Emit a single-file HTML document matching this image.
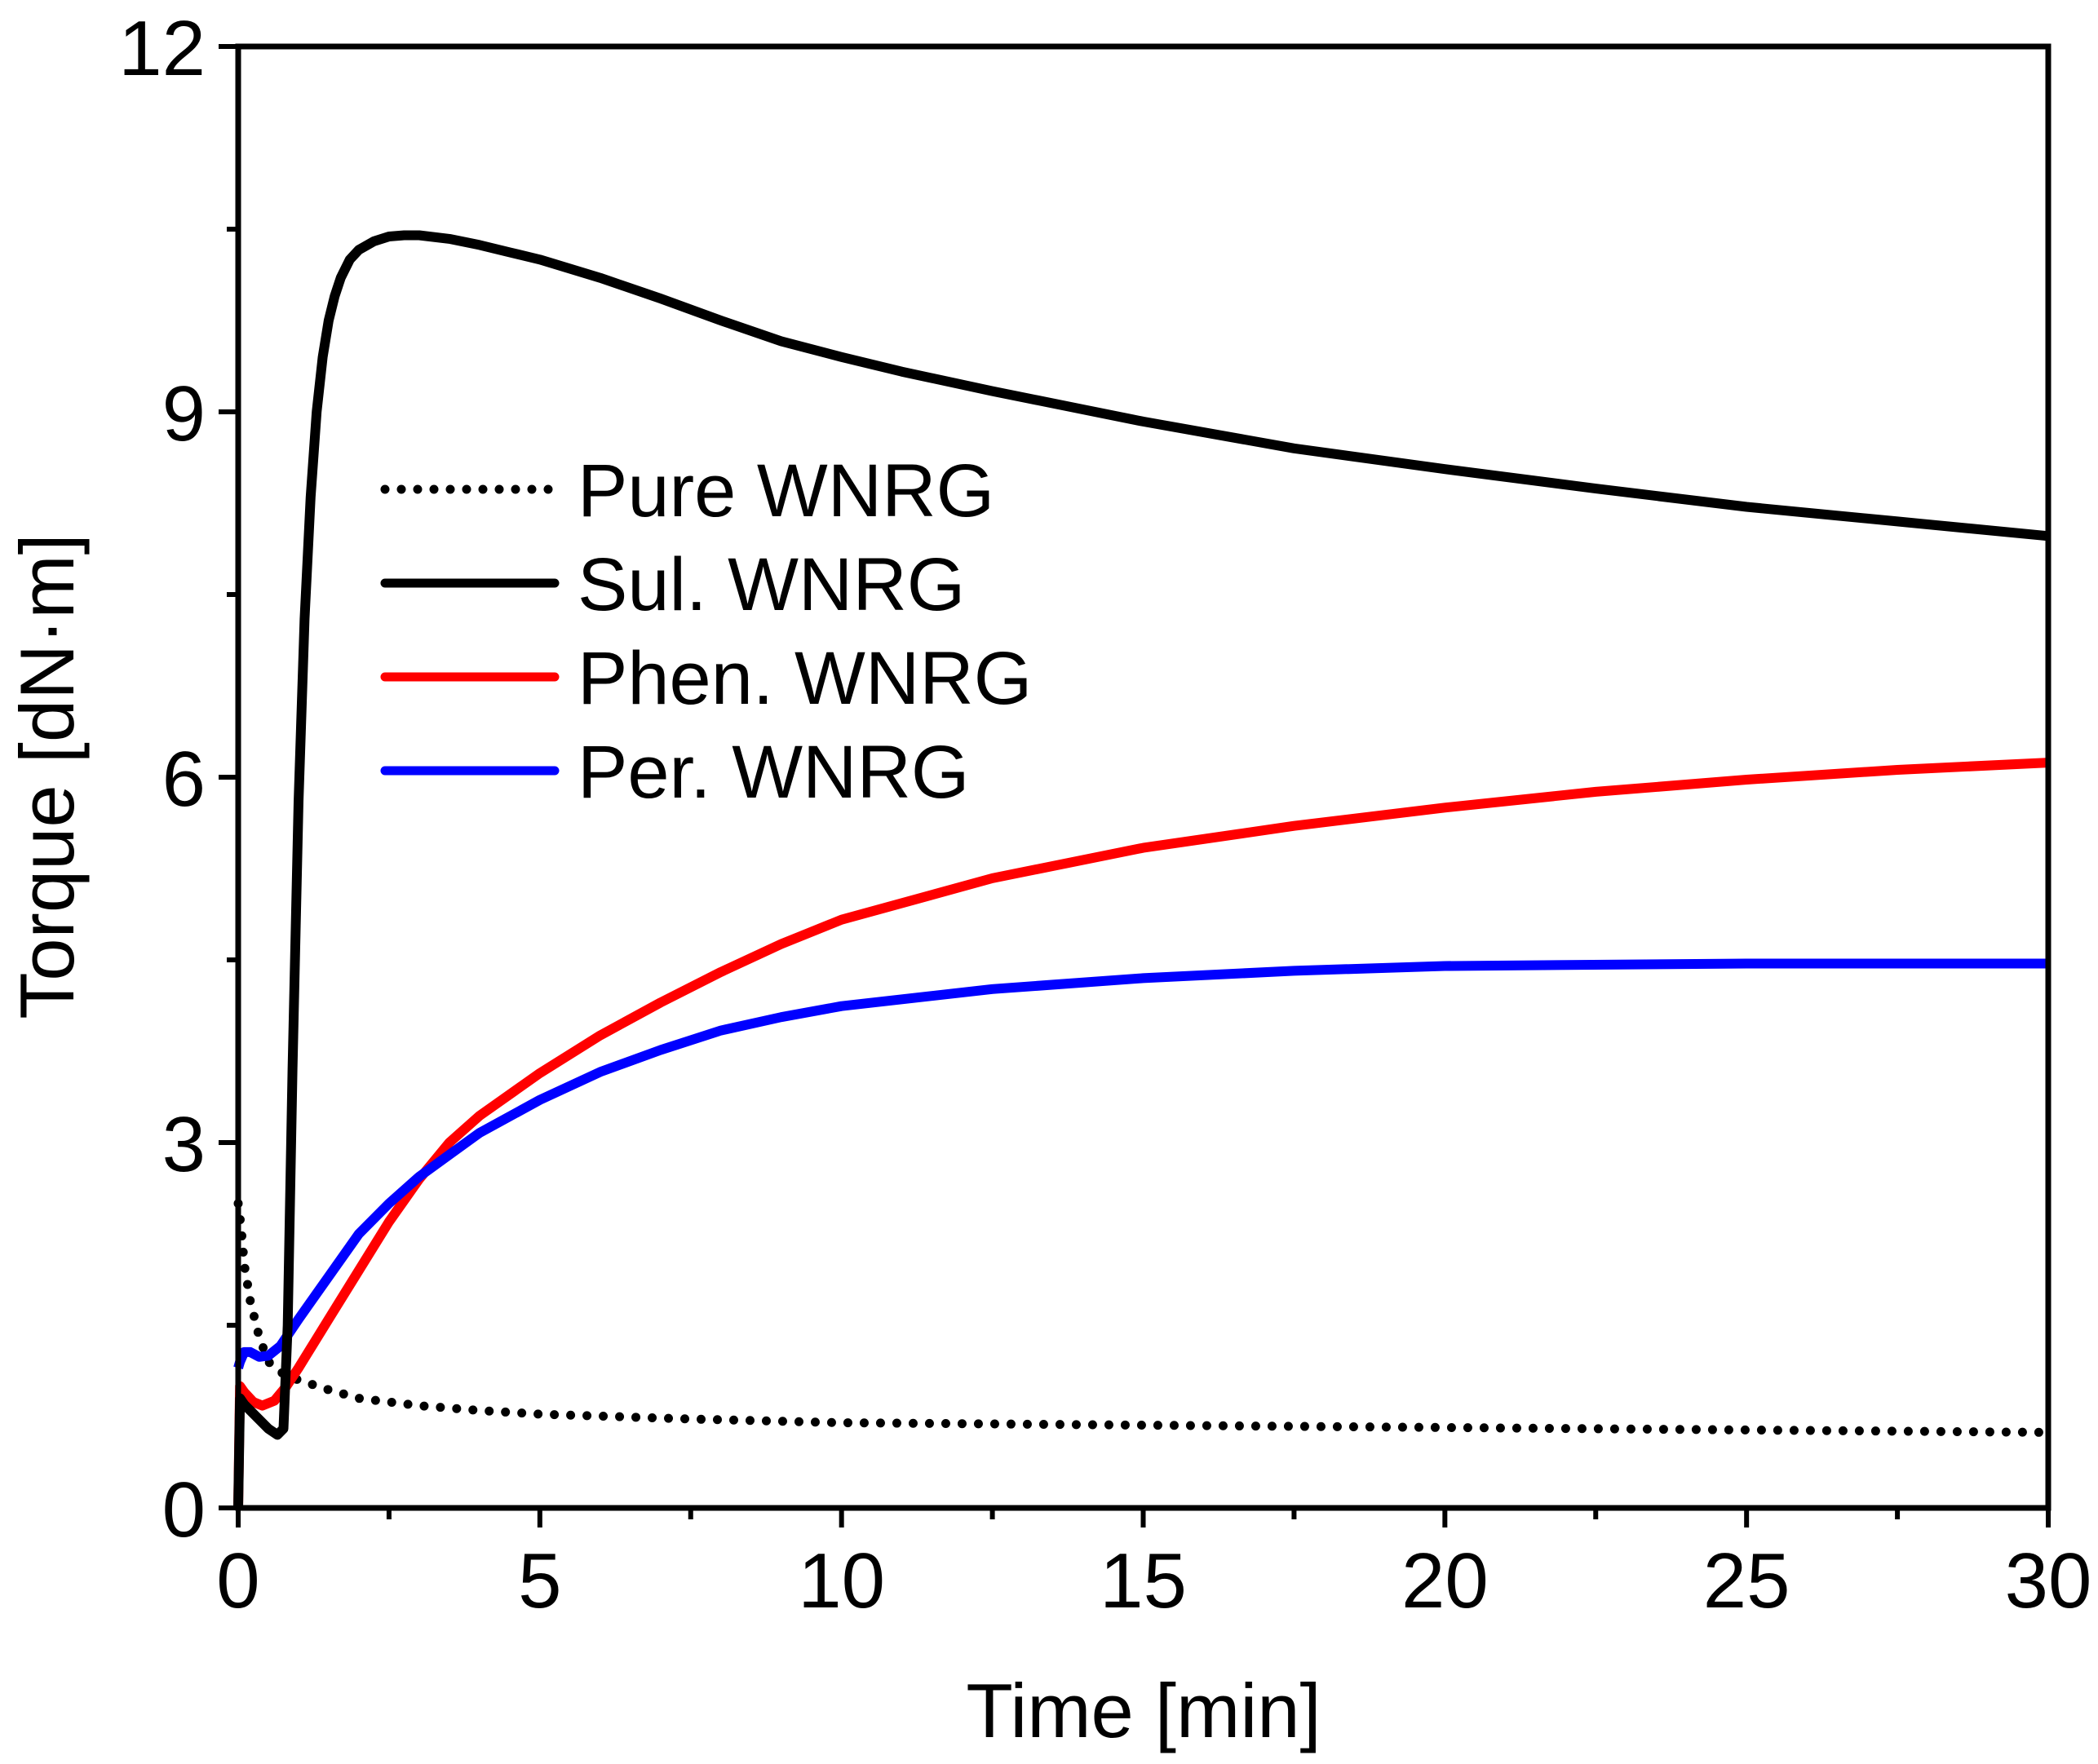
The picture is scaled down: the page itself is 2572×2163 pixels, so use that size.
<!DOCTYPE html>
<html><head><meta charset="utf-8"><style>
body{margin:0;background:#fff}
svg{display:block;font-family:"Liberation Sans",Arial,sans-serif}
</style></head><body>
<svg id="chart" width="2572" height="2163" viewBox="0 0 2572 2163">
<g id="plot"></g>
</svg>
<script>
const tPure=[0,0.05,0.1,0.2,0.35,0.5,0.75,1,1.5,2,3,4,5,7.5,10,15,20,25,30];
const vPure=[2.5,2.3,2.0,1.7,1.4,1.2,1.1,1.05,0.97,0.9,0.84,0.8,0.77,0.73,0.7,0.68,0.66,0.64,0.62];
const tSul=[0,0.03,0.1,0.3,0.5,0.65,0.75,0.82,0.9,1.0,1.1,1.2,1.3,1.4,1.5,1.6,1.7,1.85,2,2.25,2.5,2.75,3,3.5,4,4.5,5,6,7,8,9,10,11,12.5,14,15,17.5,20,22.5,25,27.5,30];
const vSul=[0,0.9,0.85,0.75,0.65,0.6,0.65,1.5,3.6,5.8,7.3,8.3,9.0,9.45,9.75,9.95,10.1,10.25,10.33,10.4,10.44,10.45,10.45,10.42,10.37,10.31,10.25,10.1,9.93,9.75,9.58,9.45,9.33,9.17,9.02,8.92,8.7,8.53,8.37,8.22,8.1,7.98];
const tPhen=[0,0.03,0.1,0.25,0.4,0.6,0.8,1,1.5,2,2.5,3,3.5,4,5,6,7,8,9,10,12.5,15,17.5,20,22.5,25,27.5,30];
const vPhen=[0,1.0,0.95,0.87,0.84,0.88,1.0,1.15,1.55,1.95,2.35,2.7,3.0,3.22,3.57,3.88,4.15,4.4,4.63,4.83,5.17,5.42,5.6,5.75,5.88,5.98,6.06,6.12];
const tPer=[0,0.03,0.1,0.2,0.35,0.5,0.7,1,1.5,2,2.5,3,3.5,4,5,6,7,8,9,10,12.5,15,17.5,20,25,30];
const vPer=[1.15,1.2,1.28,1.28,1.24,1.25,1.33,1.55,1.9,2.25,2.5,2.72,2.9,3.08,3.35,3.58,3.76,3.92,4.03,4.12,4.26,4.35,4.41,4.45,4.47,4.47];
const xTicks=[0,5,10,15,20,25,30];
const yTicks=[0,3,6,9,12];
const legendLabels=["Pure WNRG","Sul. WNRG","Phen. WNRG","Per. WNRG"];

const L=292,R=2511,T=57,B=1849;
const xs=t=>L+(R-L)*t/30, ys=v=>B-(B-T)*v/12;
const NS="http://www.w3.org/2000/svg", g=document.getElementById('plot');
function mk(tag,attrs){const e=document.createElementNS(NS,tag);for(const k in attrs)e.setAttribute(k,attrs[k]);g.appendChild(e);return e;}
function path(ts,vs){return ts.map((t,i)=>(i?'L':'M')+xs(t).toFixed(1)+','+ys(vs[i]).toFixed(1)).join(' ');}

let e;
e=mk('path',{d:path(tPure,vPure),fill:'none',stroke:'#000','stroke-width':11,'stroke-dasharray':'0 20','stroke-linecap':'round'});


e=mk('path',{d:path(tPhen,vPhen),fill:'none',stroke:'#ff0000','stroke-width':12,'stroke-linejoin':'round'});


e=mk('path',{d:path(tPer,vPer),fill:'none',stroke:'#0000ff','stroke-width':12,'stroke-linejoin':'round'});


e=mk('line',{x1:xs(0),x2:xs(0),y1:ys(0),y2:ys(1.15),stroke:'#0000ff','stroke-width':5});


e=mk('path',{d:path(tSul,vSul),fill:'none',stroke:'#000','stroke-width':12,'stroke-linejoin':'round'});



e=mk('rect',{x:L,y:T,width:R-L,height:B-T,fill:'none',stroke:'#000','stroke-width':7});



for(let i=0;i<=12;i++){const t=i*2.5,maj=i%2===0;
 e=mk('line',{x1:xs(t),x2:xs(t),y1:B,y2:B+(maj?24:14),stroke:'#000','stroke-width':6});
 
 }
xTicks.forEach(t=>{e=mk('text',{x:xs(t),y:B+122,'text-anchor':'middle','font-size':96});e.textContent=t;
 
 });
for(let i=0;i<=8;i++){const v=i*1.5,maj=i%2===0;
 e=mk('line',{x1:L,x2:L-(maj?24:14),y1:ys(v),y2:ys(v),stroke:'#000','stroke-width':6});
 
 }
yTicks.forEach(v=>{e=mk('text',{x:L-40,y:ys(v)+35,'text-anchor':'end','font-size':96});e.textContent=v;
 
 });

e=mk('text',{x:1402,y:2130,'text-anchor':'middle','font-size':94});e.textContent='Time [min]';


e=mk('text',{x:0,y:0,'text-anchor':'middle','font-size':94,transform:'translate(90,952) rotate(-90)'});e.textContent='Torque [dN·m]';



const legStyles=[['#000','0 20'],['#000',''],['#ff0000',''],['#0000ff','']];
legendLabels.forEach((lab,i)=>{const y=600+i*115;
 e=mk('line',{x1:472,x2:680,y1:y,y2:y,stroke:legStyles[i][0],'stroke-width':11,'stroke-linecap':'round','stroke-dasharray':legStyles[i][1]||'none'});
 
 
 e=mk('text',{x:708,y:y+33,'font-size':92});e.textContent=lab;
 
 });
</script>
</body></html>
